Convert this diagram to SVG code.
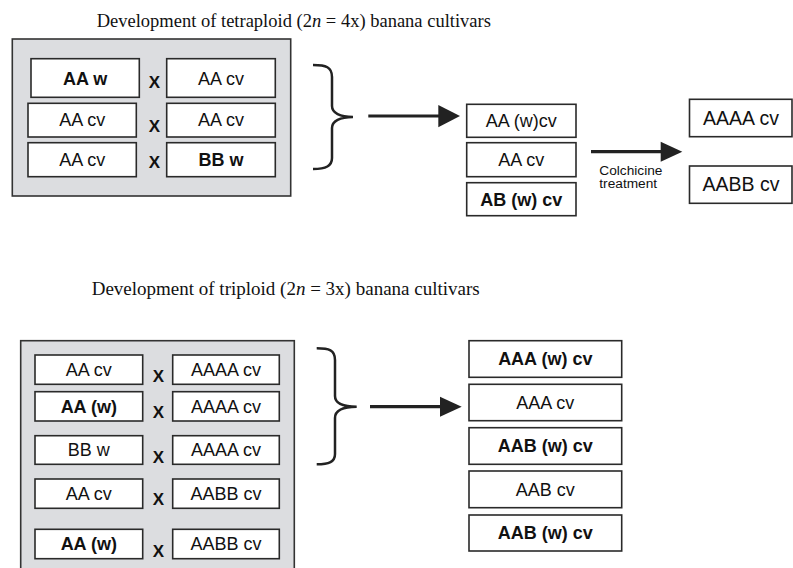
<svg xmlns="http://www.w3.org/2000/svg" width="793" height="568" viewBox="0 0 793 568">
<defs>
<style>
.title{font-family:"Liberation Serif","Times New Roman",serif;font-size:18.5px;fill:#111}
.panel{fill:#dcdde0;stroke:#333;stroke-width:1.6}
.box{fill:#fff;stroke:#2a2a2a;stroke-width:1.6}
.t{font-family:"Liberation Sans",Arial,sans-serif;font-size:18px;fill:#111;text-anchor:middle}
.b{font-weight:bold}
.x{font-family:"Liberation Sans",Arial,sans-serif;font-size:17px;font-weight:bold;fill:#111;text-anchor:middle}
.small{font-family:"Liberation Sans",Arial,sans-serif;font-size:13.7px;fill:#111}
.brace{fill:none;stroke:#222;stroke-width:2.5}
.line{stroke:#222;stroke-width:3.2;fill:none}
.head{fill:#222}
</style>
</defs>
<rect width="793" height="568" fill="#fff"/>

<text class="title" x="96.7" y="27.3">Development of tetraploid (2<tspan font-style="italic">n</tspan> = 4x) banana cultivars</text>
<text class="title" x="91.7" y="295" style="font-size:19px">Development of triploid (2<tspan font-style="italic">n</tspan> = 3x) banana cultivars</text>

<g id="panel-tetra">
<rect class="panel" x="12.3" y="39" width="278.4" height="157"/>
</g>
<g id="t-l1"><rect class="box" x="31" y="58.7" width="108.3" height="38.6"/><text class="t b" x="85.2" y="84.6">AA w</text></g>
<g id="t-r1"><rect class="box" x="166.7" y="58.7" width="108.6" height="38.6"/><text class="t" x="221" y="84.6">AA cv</text></g>
<g id="t-l2"><rect class="box" x="28" y="103.3" width="108.3" height="33.7"/><text class="t" x="82.2" y="126.4">AA cv</text></g>
<g id="t-r2"><rect class="box" x="166.7" y="103.3" width="108.6" height="33.7"/><text class="t" x="221" y="126.4">AA cv</text></g>
<g id="t-l3"><rect class="box" x="28" y="142.7" width="108.3" height="34"/><text class="t" x="82.2" y="166">AA cv</text></g>
<g id="t-r3"><rect class="box" x="166.7" y="142.7" width="108.6" height="34"/><text class="t b" x="221" y="166">BB w</text></g>
<g id="t-x"><text class="x" x="154.5" y="88.3">X</text><text class="x" x="154.5" y="131.7">X</text><text class="x" x="154.5" y="168.3">X</text></g>

<g id="t-mid1"><rect class="box" x="466.7" y="104.3" width="109.3" height="33"/><text class="t" x="521.3" y="127">AA (w)cv</text></g>
<g id="t-mid2"><rect class="box" x="466.7" y="142.7" width="109.3" height="34"/><text class="t" x="521.3" y="166">AA cv</text></g>
<g id="t-mid3"><rect class="box" x="466.7" y="182.7" width="109.3" height="33"/><text class="t b" x="521.3" y="205.5">AB (w) cv</text></g>
<g id="t-out1"><rect class="box" x="689.5" y="99.3" width="102.5" height="37.4"/><text class="t" x="741" y="124.5" style="font-size:19.5px">AAAA cv</text></g>
<g id="t-out2"><rect class="box" x="689.5" y="166" width="102.5" height="37.3"/><text class="t" x="741" y="191.2" style="font-size:19.5px">AABB cv</text></g>

<g id="panel-tri">
<rect class="panel" x="20.7" y="340.7" width="273.6" height="232"/>
</g>
<g id="d-l1"><rect class="box" x="35" y="355" width="107.7" height="29.3"/><text class="t" x="88.8" y="376">AA cv</text></g>
<g id="d-r1"><rect class="box" x="172.7" y="355" width="106.6" height="29.3"/><text class="t" x="226" y="376">AAAA cv</text></g>
<g id="d-l2"><rect class="box" x="35" y="391.7" width="107.7" height="29.3"/><text class="t b" x="88.8" y="412.7">AA (w)</text></g>
<g id="d-r2"><rect class="box" x="172.7" y="391.7" width="106.6" height="29.3"/><text class="t" x="226" y="412.7">AAAA cv</text></g>
<g id="d-l3"><rect class="box" x="35" y="435.7" width="107.7" height="28.6"/><text class="t" x="88.8" y="456.3">BB w</text></g>
<g id="d-r3"><rect class="box" x="172.7" y="435.7" width="106.6" height="28.6"/><text class="t" x="226" y="456.3">AAAA cv</text></g>
<g id="d-l4"><rect class="box" x="35" y="479" width="107.7" height="29.3"/><text class="t" x="88.8" y="500">AA cv</text></g>
<g id="d-r4"><rect class="box" x="172.7" y="479" width="106.6" height="29.3"/><text class="t" x="226" y="500">AABB cv</text></g>
<g id="d-l5"><rect class="box" x="35" y="529.3" width="107.7" height="29.4"/><text class="t b" x="88.8" y="550.3">AA (w)</text></g>
<g id="d-r5"><rect class="box" x="172.7" y="529.3" width="106.6" height="29.4"/><text class="t" x="226" y="550.3">AABB cv</text></g>
<g id="d-x"><text class="x" x="158.5" y="382.3">X</text><text class="x" x="158.5" y="418.3">X</text><text class="x" x="158.5" y="462.7">X</text><text class="x" x="158.5" y="505">X</text><text class="x" x="158.5" y="556.7">X</text></g>

<g id="d-out1"><rect class="box" x="469" y="340.7" width="152.7" height="36.6"/><text class="t b" x="545.3" y="365.3">AAA (w) cv</text></g>
<g id="d-out2"><rect class="box" x="469" y="384.3" width="152.7" height="36.4"/><text class="t" x="545.3" y="408.8">AAA cv</text></g>
<g id="d-out3"><rect class="box" x="469" y="427.7" width="152.7" height="36.6"/><text class="t b" x="545.3" y="452.3">AAB (w) cv</text></g>
<g id="d-out4"><rect class="box" x="469" y="471" width="152.7" height="36.7"/><text class="t" x="545.3" y="495.6">AAB cv</text></g>
<g id="d-out5"><rect class="box" x="469" y="515" width="152.7" height="36"/><text class="t b" x="545.3" y="539.3">AAB (w) cv</text></g>

<g id="connectors">
<path class="brace" d="M313,65 C326,65 332,67 332,77 L332,106 C332,113 340,117 353,117 C340,117 332,121 332,128 L332,158 C332,166 326,169 313,169"/>
<path class="brace" d="M316.7,348.3 C329,348.3 335,350 335,360 L335,396 C335,403 343,406.7 356.7,406.7 C343,406.7 335,410 335,418 L335,454 C335,462 329,464.3 316.7,464.3"/>
<line class="line" x1="368.3" y1="116" x2="440" y2="116"/>
<polygon class="head" points="438.3,105 460,116 438.3,127.3"/>
<line class="line" x1="591" y1="151.7" x2="662" y2="151.7"/>
<polygon class="head" points="660.7,141.7 682.3,151.7 660.7,161.7"/>
<line class="line" x1="370" y1="406.7" x2="441" y2="406.7"/>
<polygon class="head" points="440,396.7 461.7,406.7 440,416.7"/>
<text class="small" x="599.3" y="174.5">Colchicine</text>
<text class="small" x="599.3" y="188">treatment</text>
</g>
</svg>
